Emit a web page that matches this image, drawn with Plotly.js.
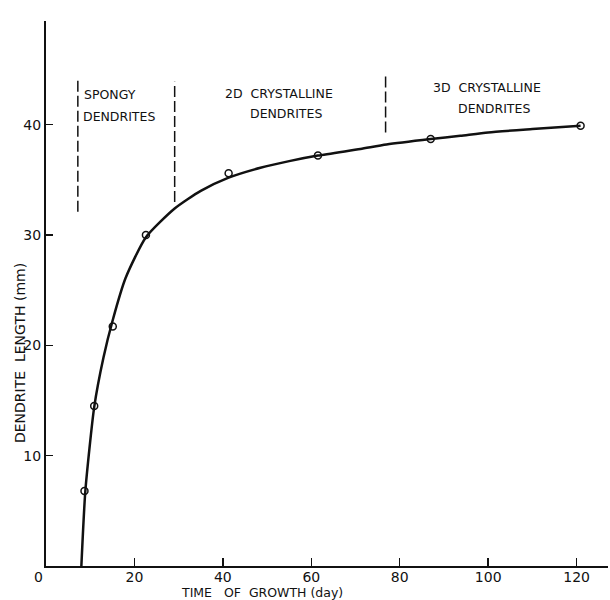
<!DOCTYPE html>
<html>
<head>
<meta charset="utf-8">
<script src="https://cdn.plot.ly/plotly-3.0.1.min.js"></script>
<style>html,body{margin:0;padding:0;background:#fff;}#chart{width:610px;height:600px;}</style>
</head>
<body>
<div id="chart"></div>
<script>
// Measured points
const pointDays = [8.7, 10.9, 15.1, 22.6, 41.3, 61.5, 87.0, 120.9];
const pointLength = [6.8, 14.5, 21.7, 30.0, 35.6, 37.2, 38.7, 39.9];

// Hand-drawn fitted curve
const curveDays = [8.0, 8.9, 10.9, 13.0, 15.1, 18.0, 22.6, 29.1, 35.0, 41.3, 48.5, 55.0, 61.5, 71.1, 77.0, 87.0, 93.7, 100.0, 110.0, 120.9];
const curveLength = [0.0, 6.8, 14.4, 18.9, 22.3, 26.1, 29.8, 32.4, 34.0, 35.2, 36.1, 36.7, 37.2, 37.8, 38.2, 38.7, 39.0, 39.3, 39.6, 39.9];

// Regime boundaries (dashed vertical lines)
const boundaryDays = [7.2, 29.1, 76.8];
const boundaryTop = [44.0, 43.9, 44.5];
const boundaryBottom = [32.1, 33.0, 39.3];

// Regime labels
const regimeLine1 = ["SPONGY", "2D  CRYSTALLINE", "3D  CRYSTALLINE"];
const regimeLine2 = ["DENDRITES", "DENDRITES", "DENDRITES"];
const regimeLine1X = [14.5, 52.7, 99.8];
const regimeLine2X = [16.5, 54.2, 101.4];
const regimeLine1Y = [42.7, 42.8, 43.4];
const regimeLine2Y = [40.7, 41.0, 41.5];

const xTickVals = [20, 40, 60, 80, 100, 120];
const xTickText = ["20", "40", "60", "80", "100", "120"];
const yTickVals = [10, 20, 30, 40];
const yTickText = ["10", "20", "30", "40"];

const xTitle = "TIME   OF  GROWTH (day)";
const yTitle = "DENDRITE  LENGTH (mm)";

const FONT = "DejaVu Sans, Arial, sans-serif";
const INK = "#111";

const traces = [];
for (let i = 0; i < boundaryDays.length; i++) {
  traces.push({
    x: [boundaryDays[i], boundaryDays[i]],
    y: [boundaryBottom[i], boundaryTop[i]],
    mode: "lines",
    line: {color: INK, width: 1.5, dash: "11px,4px"},
    hoverinfo: "skip",
    showlegend: false
  });
}
traces.push({
  x: curveDays, y: curveLength, mode: "lines",
  line: {color: INK, width: 2.5, shape: "spline", smoothing: 0.6},
  showlegend: false
});
traces.push({
  x: pointDays, y: pointLength, mode: "markers",
  marker: {symbol: "circle-open", size: 7, color: INK, line: {width: 1.5, color: INK}},
  showlegend: false
});

const annotations = [];
for (let i = 0; i < regimeLine1.length; i++) {
  annotations.push({x: regimeLine1X[i], y: regimeLine1Y[i], xref: "x", yref: "y",
    text: regimeLine1[i], showarrow: false, font: {family: FONT, size: 12.5, color: INK}});
  annotations.push({x: regimeLine2X[i], y: regimeLine2Y[i], xref: "x", yref: "y",
    text: regimeLine2[i], showarrow: false, font: {family: FONT, size: 12.5, color: INK}});
}
annotations.push({x: 0, y: 0, xref: "x", yref: "y", xshift: -8, yshift: -11,
  text: "0", showarrow: false, font: {family: FONT, size: 14, color: INK}});
annotations.push({x: 48.9, y: 0, xref: "x", yref: "y", yshift: -26,
  text: xTitle, showarrow: false, font: {family: FONT, size: 12.5, color: INK}});
annotations.push({x: 0, y: 19.3, xref: "x", yref: "y", xshift: -26,
  text: yTitle, textangle: -90, showarrow: false, font: {family: FONT, size: 14, color: INK}});

const layout = {
  width: 610, height: 600,
  margin: {l: 46, r: 2, t: 21, b: 34},
  paper_bgcolor: "#fff", plot_bgcolor: "#fff",
  showlegend: false,
  xaxis: {
    range: [0, 127.1], showgrid: false, zeroline: false,
    showline: true, linecolor: INK, linewidth: 2,
    ticks: "inside", ticklen: 8, tickwidth: 1.5, tickcolor: INK,
    ticklabelstandoff: -3,
    tickvals: xTickVals, ticktext: xTickText,
    tickfont: {family: FONT, size: 14, color: INK}
  },
  yaxis: {
    range: [0, 49.4], showgrid: false, zeroline: false,
    showline: true, linecolor: INK, linewidth: 2,
    ticks: "inside", ticklen: 7, tickwidth: 1.5, tickcolor: INK,
    tickvals: yTickVals, ticktext: yTickText,
    tickfont: {family: FONT, size: 14, color: INK}
  },
  annotations: annotations
};

Plotly.newPlot("chart", traces, layout, {staticPlot: true, displayModeBar: false});
</script>
</body>
</html>
